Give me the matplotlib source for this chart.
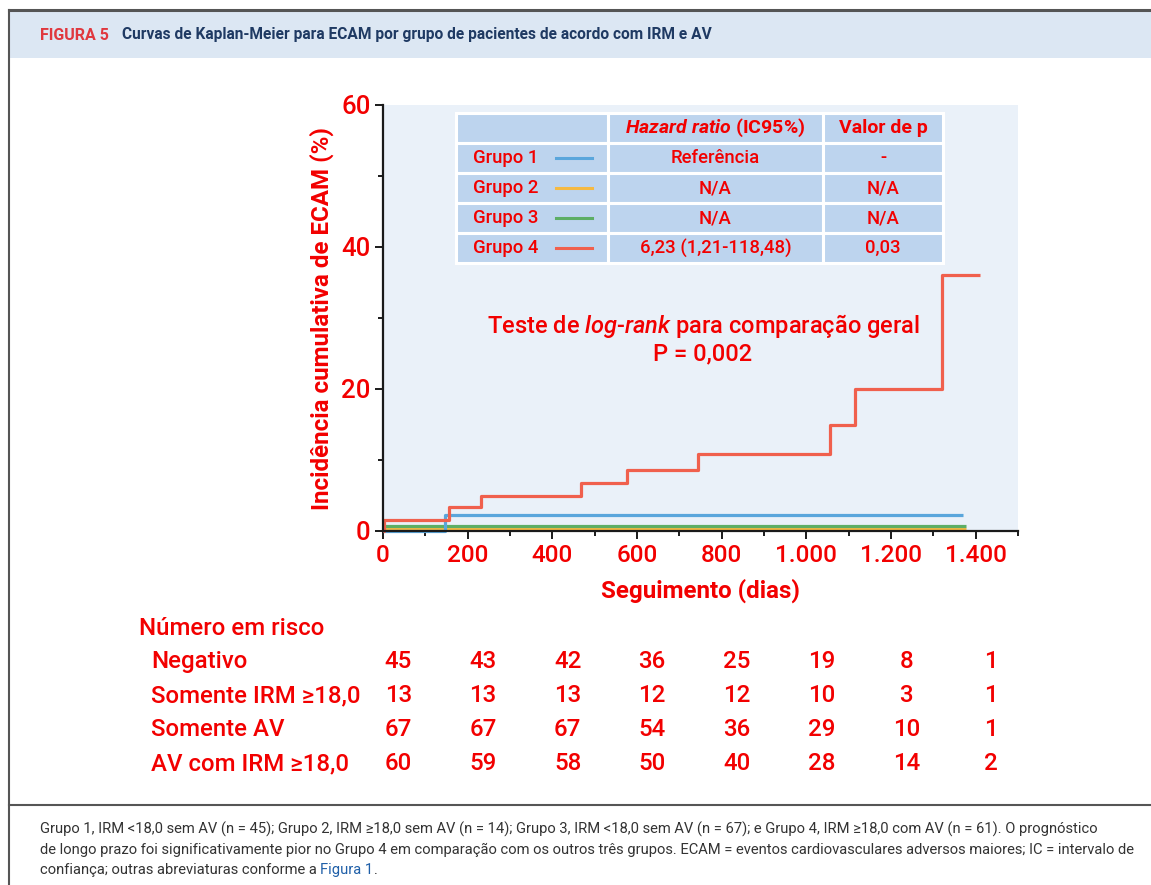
import matplotlib
matplotlib.use("Agg")
import matplotlib.pyplot as plt
from matplotlib.patches import Rectangle
from matplotlib.lines import Line2D

plt.rcParams['font.family'] = ['Roboto', 'DejaVu Sans']
plt.rcParams['font.weight'] = 'medium'
plt.rcParams['mathtext.fontset'] = 'custom'
plt.rcParams['mathtext.rm'] = 'Roboto:medium'
plt.rcParams['mathtext.it'] = 'Roboto:italic:medium'
plt.rcParams['mathtext.bf'] = 'Roboto:bold'
plt.rcParams['mathtext.bfit'] = 'Roboto:italic:bold'

RED = '#f20000'

# Kaplan-Meier curves (days, cumulative incidence %)
g1_t = [0, 147, 1369]
g1_y = [0, 2.3, 2.3]
g2_t = [0, 1378]
g2_y = [0.3, 0.3]
g3_t = [0, 1378]
g3_y = [0.75, 0.75]
g4_t = [0, 3, 157, 232, 468, 577, 743, 1055, 1116, 1320, 1410]
g4_y = [0, 1.6, 3.4, 5.0, 6.8, 8.6, 10.8, 14.9, 20.0, 36.0, 36.0]

group_names = ["Grupo 1", "Grupo 2", "Grupo 3", "Grupo 4"]
group_colors = ["#5aa6dc", "#f5b942", "#5dae65", "#f0604d"]
hazard = ["Referência", "N/A", "N/A", "6,23 (1,21-118,48)"]
pvals = ["-", "N/A", "N/A", "0,03"]

# number at risk
risk_times = [0, 200, 400, 600, 800, 1000, 1200, 1400]
risk_labels = ["Negativo", "Somente IRM ≥18,0", "Somente AV", "AV com IRM ≥18,0"]
risk_counts = [
    [45, 43, 42, 36, 25, 19, 8, 1],
    [13, 13, 13, 12, 12, 10, 3, 1],
    [67, 67, 67, 54, 36, 29, 10, 1],
    [60, 59, 58, 50, 40, 28, 14, 2],
]

xticks = [0, 200, 400, 600, 800, 1000, 1200, 1400]
xticklabels = ["0", "200", "400", "600", "800", "1.000", "1.200", "1.400"]

W, H = 1151, 885
fig = plt.figure(figsize=(W / 100, H / 100), dpi=100)

# frame / header band
fig.patches.append(Rectangle((9 / W, 1 - 58 / H), 1, 48 / H, transform=fig.transFigure,
                             facecolor='#dce7f3', edgecolor='none', zorder=0))
fig.add_artist(Line2D([9 / W, 1], [1 - 10 / H, 1 - 10 / H], color='#555555', lw=2.2))
fig.add_artist(Line2D([9 / W, 9 / W], [0, 1 - 10 / H], color='#555555', lw=1.5))
fig.add_artist(Line2D([9 / W, 1], [1 - 805 / H, 1 - 805 / H], color='#555555', lw=1.5))

fig.text(40 / W, 1 - 35 / H, "FIGURA 5", color='#e0383e', fontsize=11.5, fontweight='bold',
         va='center', ha='left')
fig.text(122 / W, 1 - 35 / H, "Curvas de Kaplan-Meier para ECAM por grupo de pacientes de acordo com IRM e AV",
         color='#1f3a63', fontsize=11.2, fontweight='bold', va='center', ha='left')

cap_fs = 10.6
caption = [
    "Grupo 1, IRM <18,0 sem AV (n = 45); Grupo 2, IRM ≥18,0 sem AV (n = 14); Grupo 3, IRM <18,0 sem AV (n = 67); e Grupo 4, IRM ≥18,0 com AV (n = 61). O prognóstico",
    "de longo prazo foi significativamente pior no Grupo 4 em comparação com os outros três grupos. ECAM = eventos cardiovasculares adversos maiores; IC = intervalo de",
]
for i, line in enumerate(caption):
    fig.text(40 / W, 1 - (829 + 20.5 * i) / H, line, fontsize=cap_fs, color='#333333',
             va='center', fontweight='normal')
t3 = fig.text(40 / W, 1 - 870 / H, "confiança; outras abreviaturas conforme a ", fontsize=cap_fs,
              color='#333333', va='center', fontweight='normal')
fig.canvas.draw()
bb = t3.get_window_extent()
t4 = fig.text(bb.x1 / W, 1 - 870 / H, "Figura 1", fontsize=cap_fs, color='#1f5fa8',
              va='center', fontweight='normal')
fig.canvas.draw()
bb4 = t4.get_window_extent()
fig.text(bb4.x1 / W, 1 - 870 / H, ".", fontsize=cap_fs, color='#333333', va='center',
         fontweight='normal')

# main axes
ax = fig.add_axes([383 / W, 1 - 531 / H, 635 / W, 426 / H])
ax.set_facecolor('#eaf1f9')
ax.set_xlim(0, 1500)
ax.set_ylim(0, 60)
for s in ['top', 'right']:
    ax.spines[s].set_visible(False)
for s in ['left', 'bottom']:
    ax.spines[s].set_linewidth(1.6)
    ax.spines[s].set_color('#1a1a1a')

for t, y, c in [(g2_t, g2_y, group_colors[1]), (g3_t, g3_y, group_colors[2]),
                (g1_t, g1_y, group_colors[0]), (g4_t, g4_y, group_colors[3])]:
    ax.step(t, y, where='post', color=c, lw=2.3, clip_on=False, solid_capstyle='butt')

ax.set_xticks(xticks)
ax.set_xticklabels(xticklabels)
ax.set_xticks(list(range(100, 1600, 200)), minor=True)
ax.set_yticks([0, 20, 40, 60])
ax.set_yticks([10, 30, 50], minor=True)
ax.tick_params(which='major', length=6, width=1.4, color='#1a1a1a', labelsize=17.5,
               labelcolor=RED, pad=3)
ax.tick_params(axis='y', which='major', labelsize=18.5)
ax.tick_params(which='minor', length=3.5, width=1.4, color='#1a1a1a')

ax.set_xlabel("Seguimento (dias)", fontsize=17.4, fontweight='bold', color=RED, labelpad=9)
ax.set_ylabel("Incidência cumulativa de ECAM (%)", fontsize=17.4, fontweight='bold',
              color=RED, labelpad=5)

# hazard ratio table
xe = [0.115, 0.354, 0.693, 0.882]
top = 0.981
rh = 0.0705
cell = '#bdd4ee'
header = ["", r"$\mathbfit{Hazard\ ratio}$ (IC95%)", "Valor de p"]
for r in range(5):
    y0 = top - (r + 1) * rh
    for c in range(3):
        ax.add_patch(Rectangle((xe[c], y0), xe[c + 1] - xe[c], rh, transform=ax.transAxes,
                               facecolor=cell, edgecolor='white', lw=2.2, zorder=3))
    yc = y0 + rh / 2
    if r == 0:
        for c in (1, 2):
            ax.text((xe[c] + xe[c + 1]) / 2, yc, header[c], transform=ax.transAxes,
                    ha='center', va='center', color=RED, fontsize=14,
                    fontweight='bold', zorder=4)
    else:
        g = r - 1
        ax.text(0.142, yc, group_names[g], transform=ax.transAxes, ha='left', va='center',
                color=RED, fontsize=13.3, zorder=4)
        ax.plot([0.272, 0.329], [yc, yc], transform=ax.transAxes, color=group_colors[g],
                lw=2.2, zorder=4)
        ax.text((xe[1] + xe[2]) / 2, yc, hazard[g], transform=ax.transAxes, ha='center',
                va='center', color=RED, fontsize=13.3, zorder=4)
        ax.text((xe[2] + xe[3]) / 2, yc, pvals[g], transform=ax.transAxes, ha='center',
                va='center', color=RED, fontsize=13.3, zorder=4)

ax.text(756, 28.9, "Teste de $\\it{log}$-$\\it{rank}$ para comparação geral", ha='center',
        va='center', color=RED, fontsize=17)
ax.text(756, 25.0, "P = 0,002", ha='center', va='center', color=RED, fontsize=17)

# number at risk
ax.text(-576, -13.8, "Número em risco", ha='left', va='center', color=RED, fontsize=17.3,
        clip_on=False)
row_y = [-18.45, -23.2, -28.0, -32.8]
for lab, counts, yy in zip(risk_labels, risk_counts, row_y):
    ax.text(-548, yy, lab, ha='left', va='center', color=RED, fontsize=17.3, clip_on=False)
    for t, n in zip(risk_times, counts):
        ax.text(t + 36, yy, str(n), ha='center', va='center', color=RED, fontsize=17.3,
                clip_on=False)

fig.savefig("out.png", dpi=100)
